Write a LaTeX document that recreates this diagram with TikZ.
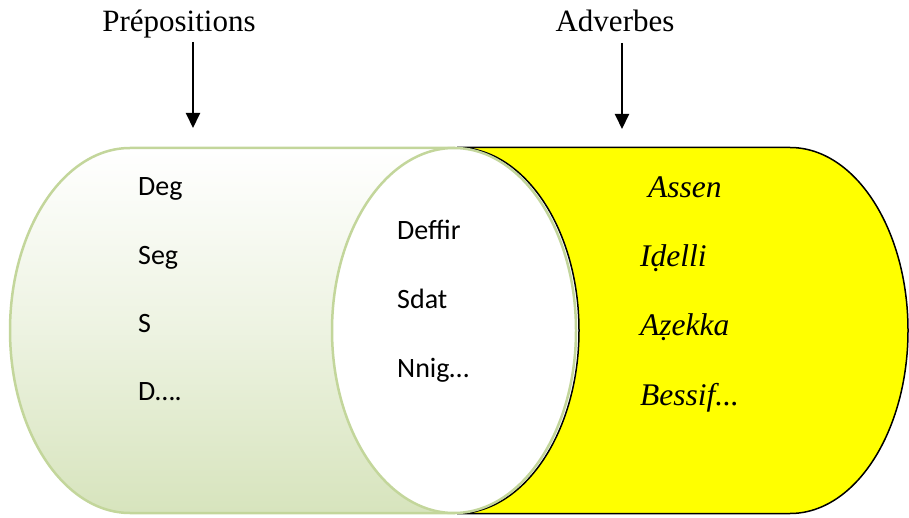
\documentclass[tikz,border=0pt]{standalone}
\usepackage{fontspec}
\setmainfont{Liberation Serif}
\newfontfamily\calib{Carlito}
\usetikzlibrary{arrows.meta}
\definecolor{grborder}{RGB}{195,214,155}
\definecolor{grfill}{RGB}{215,228,189}
\definecolor{yel}{RGB}{255,255,0}
\tikzset{
  toplabel/.style={anchor=base,inner sep=0pt,font=\fontsize{31}{36}\selectfont},
  sanstxt/.style={anchor=base west,inner sep=0pt,font=\calib\fontsize{28}{33}\selectfont},
  ittxt/.style={anchor=base west,inner sep=0pt,font=\itshape\fontsize{31.5}{36}\selectfont},
  downarrow/.style={line width=2pt,-{Triangle[width=14pt,length=15pt]}},
  greenedge/.style={draw=grborder,line width=2.5pt}
}
\begin{document}
\begin{tikzpicture}[x=1pt,y=1pt]
\useasboundingbox (0,0) rectangle (909,517);
% yellow cylinder
\path[fill=yel,draw=black,line width=1.5pt]
  (457,369.5) -- (790,369.5)
  arc[start angle=90,end angle=-90,x radius=118,y radius=183]
  -- (457,3.5)
  arc[start angle=-90,end angle=90,x radius=122,y radius=183] -- cycle;
% left cylinder
\path[greenedge,top color=white,bottom color=grfill,middle color=grfill!45]
  (454,369) -- (130,369)
  arc[start angle=90,end angle=270,x radius=120,y radius=182.5]
  -- (454,4) -- cycle;
% front ellipse
\path[greenedge,fill=white] (454,186.5) ellipse[x radius=122,y radius=182.5];
% top labels
\node[toplabel] (prep) at (179,485) {Prépositions};
\node[toplabel] (adv) at (615,485) {Adverbes};
\coordinate (ps) at (193,475);
\coordinate (pe) at (193,389);
\coordinate (as) at (622,474);
\coordinate (ae) at (622,388);
\draw[downarrow] (ps) -- (pe);
\draw[downarrow] (as) -- (ae);
% left texts
\node[sanstxt] (deg) at (138,321) {Deg};
\node[sanstxt] (seg) at (138,252) {Seg};
\node[sanstxt] (s) at (138,185) {S};
\node[sanstxt] (d) at (138,117) {D….};
% middle texts
\node[sanstxt] (deffir) at (397,277) {Deffir};
\node[sanstxt] (sdat) at (397,209) {Sdat};
\node[sanstxt] (nnig) at (397,140) {Nnig…};
% right texts
\node[ittxt] (assen) at (648,319) {Assen};
\node[ittxt] (idelli) at (640,250) {Iḍelli};
\node[ittxt] (azekka) at (640,182) {Aẓekka};
\node[ittxt] (bessif) at (640,112) {Bessif...};
\end{tikzpicture}
\end{document}
